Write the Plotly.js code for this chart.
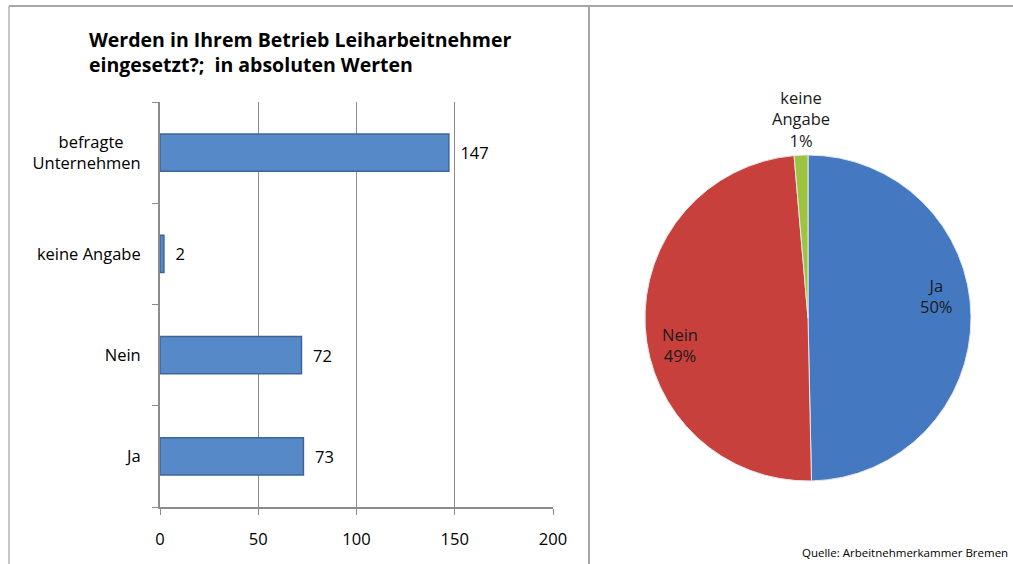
<!DOCTYPE html>
<html>
<head>
<meta charset="utf-8">
<script src="https://cdn.plot.ly/plotly-3.0.1.min.js"></script>
<style>html,body{margin:0;padding:0;background:#fff;}#chart{width:1013px;height:564px;}</style>
</head>
<body>
<div id="chart"></div>
<script>
// Data
const categories = ['Ja', 'Nein', 'keine Angabe', 'befragte Unternehmen'];
const categoryTickLabels = ['Ja', 'Nein', 'keine Angabe', 'befragte\u00a0\u00a0\u00a0\u00a0<br>Unternehmen'];
const barValues = [73, 72, 2, 147];
const pieLabels = ['Ja', 'Nein', 'keine Angabe'];
const pieValues = [73, 72, 2];
const xTickValues = [0, 50, 100, 150, 200];
const titleText = 'Werden in Ihrem Betrieb Leiharbeitnehmer<br>eingesetzt?;  in absoluten Werten';
const sourceText = 'Quelle: Arbeitnehmerkammer Bremen';

const W = 1013, H = 564;
const px = v => v / W;
const py = v => 1 - v / H;

const FONT = '"Open Sans", sans-serif';

const barTrace = {
  type: 'bar',
  orientation: 'h',
  y: categories,
  x: barValues,
  text: barValues.map(v => '\u00a0\u00a0' + v),
  textposition: 'outside',
  textfont: {family: FONT, size: 16.5, color: '#000'},
  cliponaxis: false,
  marker: {color: '#5689C8', line: {color: '#3F6597', width: 1.5}},
  width: 0.37,
  hoverinfo: 'none',
  xaxis: 'x', yaxis: 'y'
};

// pie geometry (layout)
const pieBox = {l: 645, r: 971, t: 155, b: 481};
const pieCx = (pieBox.l + pieBox.r) / 2, pieCy = (pieBox.t + pieBox.b) / 2;
const pieR = (pieBox.r - pieBox.l) / 2;

const pieTrace = {
  type: 'pie',
  labels: pieLabels,
  values: pieValues,
  sort: false,
  direction: 'clockwise',
  rotation: 0,
  marker: {colors: ['#4479C2', '#C8403C', '#9DC43F'], line: {color: '#E6E6E6', width: 1}},
  textinfo: 'none',
  showlegend: false,
  hoverinfo: 'none',
  domain: {x: [px(pieBox.l), px(pieBox.r)], y: [py(pieBox.b), py(pieBox.t)]}
};

// pie labels positioned from slice mid-angles
const total = pieValues.reduce((a, b) => a + b, 0);
const pieAnnotations = [];
const labelAngleOffset = -9 * Math.PI / 180; // perspective offset of the inside labels
let cum = 0;
pieValues.forEach((v, i) => {
  const frac = v / total;
  const mid = (cum + frac / 2) * 2 * Math.PI;
  cum += frac;
  const pct = Math.round(frac * 100) + '%';
  const font = {family: FONT, size: 16.5, color: '#1a1a1a'};
  if (frac > 0.05) {
    const rr = pieR * 0.8;
    const a = mid + labelAngleOffset;
    pieAnnotations.push({
      text: pieLabels[i] + '<br>' + pct,
      xref: 'paper', yref: 'paper',
      x: px(pieCx + rr * Math.sin(a)), y: py(pieCy - rr * Math.cos(a)),
      xanchor: 'center', yanchor: 'middle', showarrow: false, font: font
    });
  } else {
    const rr = pieR + 1;
    pieAnnotations.push({
      text: pieLabels[i].replace(' ', '<br>') + '<br>' + pct,
      xref: 'paper', yref: 'paper',
      x: px(pieCx + rr * Math.sin(mid)), y: py(pieCy - rr * Math.cos(mid)),
      xanchor: 'center', yanchor: 'bottom', showarrow: false, font: font
    });
  }
});

const gridColor = '#8C8C8C';

const layout = {
  width: W, height: H,
  margin: {l: 0, r: 0, t: 0, b: 0},
  paper_bgcolor: '#fff',
  plot_bgcolor: '#fff',
  showlegend: false,
  font: {family: FONT, size: 16.5, color: '#000'},
  title: {
    text: titleText,
    font: {family: FONT, size: 19.5, color: '#000', weight: 'bold'},
    x: px(89), xanchor: 'left', xref: 'paper',
    y: py(47), yanchor: 'middle', yref: 'paper'
  },
  xaxis: {
    domain: [px(160), px(553)],
    range: [0, 200],
    tickvals: xTickValues,
    showgrid: true, gridcolor: gridColor, gridwidth: 1,
    showline: true, linecolor: gridColor, linewidth: 2,
    ticks: 'outside', ticklen: 6, tickcolor: gridColor, tickwidth: 1,
    tickfont: {family: FONT, size: 16.5, color: '#000'},
    ticklabelstandoff: 10,
    zeroline: false,
    fixedrange: true
  },
  yaxis: {
    domain: [py(507), py(102)],
    type: 'category',
    categoryorder: 'array', categoryarray: categories,
    tickvals: categories, ticktext: categoryTickLabels,
    range: [-0.5, 3.5],
    showgrid: false,
    showline: true, linecolor: gridColor, linewidth: 2,
    ticks: 'outside', ticklen: 6, tickcolor: gridColor, tickwidth: 1,
    tickson: 'boundaries',
    tickfont: {family: FONT, size: 16.5, color: '#000'},
    ticklabelstandoff: 14,
    zeroline: false,
    fixedrange: true
  },
  shapes: [
    {type: 'line', xref: 'paper', yref: 'paper', x0: px(9), x1: 1, y0: py(6), y1: py(6), line: {color: '#A6A6A6', width: 2}},
    {type: 'line', xref: 'paper', yref: 'paper', x0: px(9), x1: px(9), y0: py(6), y1: 0, line: {color: '#B4B4B4', width: 1.5}},
    {type: 'line', xref: 'paper', yref: 'paper', x0: px(589), x1: px(589), y0: py(6), y1: 0, line: {color: '#A6A6A6', width: 2}}
  ],
  annotations: [
    {text: sourceText, xref: 'paper', yref: 'paper', x: px(1010), y: py(552), xanchor: 'right', yanchor: 'middle',
     showarrow: false, font: {family: FONT, size: 11.5, color: '#000'}}
  ].concat(pieAnnotations)
};

Plotly.newPlot('chart', [barTrace, pieTrace], layout, {displayModeBar: false, staticPlot: true});
</script>
</body>
</html>
